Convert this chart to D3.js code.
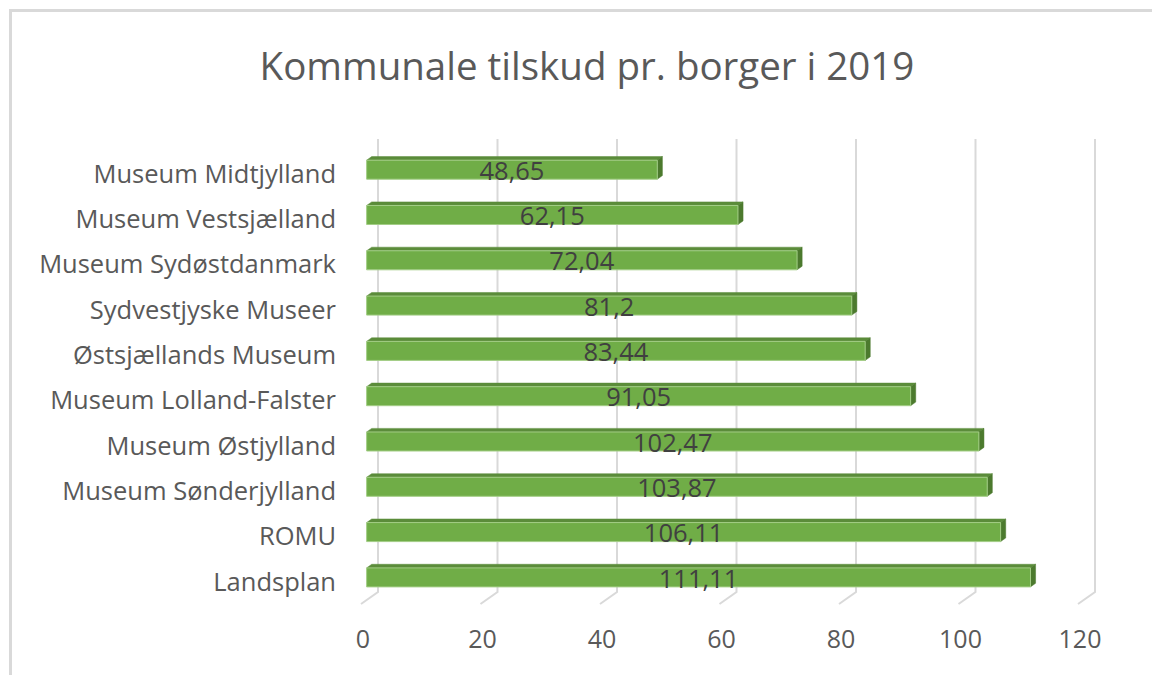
<!DOCTYPE html>
<html>
<head>
<meta charset="utf-8">
<script src="https://cdn.jsdelivr.net/npm/d3@7"></script>
<style>
  html, body { margin: 0; padding: 0; background: #fff; }
  svg { display: block; font-family: "Open Sans", sans-serif; }
</style>
</head>
<body>
<div id="chart"></div>
<script>
const categories = [
  "Museum Midtjylland", "Museum Vestsjælland", "Museum Sydøstdanmark", "Sydvestjyske Museer",
  "Østsjællands Museum", "Museum Lolland-Falster", "Museum Østjylland", "Museum Sønderjylland",
  "ROMU", "Landsplan"
];
const values = [48.65, 62.15, 72.04, 81.2, 83.44, 91.05, 102.47, 103.87, 106.11, 111.11];
const valueLabels = ["48,65", "62,15", "72,04", "81,2", "83,44", "91,05", "102,47", "103,87", "106,11", "111,11"];
const ticks = [0, 20, 40, 60, 80, 100, 120];
const title = "Kommunale tilskud pr. borger i 2019";

const W = 1152, H = 675;
const DX = 17, DY = -12;          // depth vector front -> back
const T_FRONT = 0.33, T_BACK = 0.63; // bar depth within the floor

const svg = d3.select("#chart").append("svg").attr("width", W).attr("height", H);

// frame of the chart area
svg.append("path").attr("d", `M10.5,${H} V10.5 H${W}`)
  .attr("fill", "none").attr("stroke", "#d9d9d9").attr("stroke-width", 3);

svg.append("text").attr("x", 587).attr("y", 80).attr("text-anchor", "middle")
  .style("font-size", "38.5px").attr("fill", "#595959").text(title);

// back-wall scales
const x = d3.scaleLinear().domain([0, 120]).range([378, 1095]);
const y = d3.scaleBand().domain(categories).range([139, 592]).paddingInner(0.58).paddingOuter(0.29);
const wallTop = 139, wallBottom = 592;

// project a back-wall point to depth t (0 = front, 1 = back)
const at = (xb, yb, t) => [xb - DX * (1 - t), yb - DY * (1 - t)];

const grid = svg.append("g").attr("stroke", "#d9d9d9").attr("stroke-width", 2).attr("fill", "none");
ticks.forEach(v => {
  const [fx, fy] = at(x(v), wallBottom, 0);
  grid.append("path").attr("d", `M${x(v)},${wallTop} V${wallBottom} L${fx},${fy}`);
});

svg.append("g").selectAll("text").data(ticks).join("text")
  .attr("x", d => x(d) - DX + 2).attr("y", 648).attr("text-anchor", "middle")
  .style("font-size", "25px").attr("fill", "#595959").text(d => d);

const bars = svg.append("g");
categories.forEach((c, i) => {
  const y0 = y(c), y1 = y(c) + y.bandwidth();
  const xs = x(0), xe = x(values[i]);
  const f0 = at(xs, y0, T_FRONT), f1 = at(xe, y0, T_FRONT), f2 = at(xe, y1, T_FRONT), f3 = at(xs, y1, T_FRONT);
  const b0 = at(xs, y0, T_BACK), b1 = at(xe, y0, T_BACK), b2 = at(xe, y1, T_BACK);
  const poly = pts => "M" + pts.map(p => p.join(",")).join("L") + "Z";
  // top face
  bars.append("path").attr("d", poly([f0, f1, b1, b0])).attr("fill", "#5b8c3a")
    .attr("stroke", "#5b8c3a").attr("stroke-width", 0.5);
  // side face
  bars.append("path").attr("d", poly([f1, b1, b2, f2])).attr("fill", "#4c7a2e")
    .attr("stroke", "#4c7a2e").attr("stroke-width", 0.5);
  // front face
  bars.append("path").attr("d", poly([f0, f1, f2, f3])).attr("fill", "#70ad47")
    .attr("stroke", "#a3cd86").attr("stroke-width", 1);
  bars.append("text").attr("x", (f0[0] + f1[0]) / 2).attr("y", (f0[1] + f3[1]) / 2 + 1)
    .attr("dy", "0.36em").attr("text-anchor", "middle")
    .style("font-size", "25.5px").attr("fill", "#404040").text(valueLabels[i]);
});

svg.append("g").selectAll("text").data(categories).join("text")
  .attr("x", 336).attr("y", d => at(0, y(d) + y.bandwidth() / 2, T_FRONT)[1] + 4)
  .attr("dy", "0.36em").attr("text-anchor", "end")
  .style("font-size", "25.5px").attr("fill", "#595959").text(d => d);
</script>
</body>
</html>
